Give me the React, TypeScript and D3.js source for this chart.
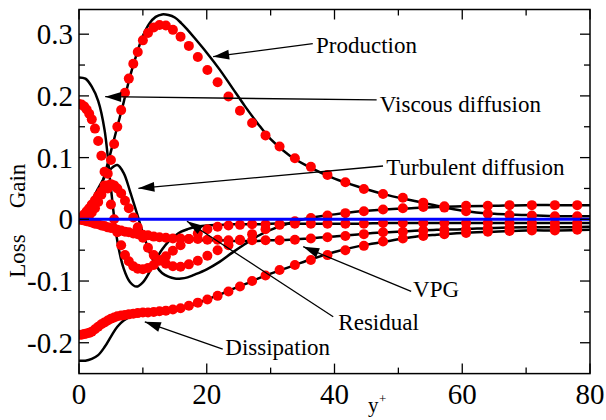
import React from "react";
import * as d3 from "d3";

// y+ positions of the model points (red dots)
const yPlusModel = [
  0, 0.4, 0.8, 1.2, 1.6, 2.0, 2.5, 3.0, 3.5, 4.0, 4.5, 5.0, 5.5, 6.0, 6.6, 7.2, 7.8, 8.5, 9.2, 10.0,
  10.8, 11.7, 12.6, 13.6, 14.7, 15.9, 17.2, 18.6, 20.1, 21.7, 23.4, 25.2, 27.1, 29.2, 31.4, 33.8,
  36.3, 38.9, 41.7, 44.6, 47.6, 50.7, 53.9, 57.2, 60.6, 64.0, 67.4, 70.9, 74.5, 78.0,
];
const productionModel = [
  0, 0.001, 0.002, 0.004, 0.007, 0.011, 0.018, 0.028, 0.04, 0.055, 0.074, 0.096, 0.122, 0.15, 0.177,
  0.205, 0.228, 0.252, 0.271, 0.29, 0.302, 0.311, 0.315, 0.314, 0.307, 0.296, 0.281, 0.263, 0.242,
  0.222, 0.199, 0.176, 0.156, 0.136, 0.118, 0.099, 0.085, 0.072, 0.06, 0.049, 0.041, 0.035, 0.027,
  0.019, 0.013, 0.009, 0.007, 0.006, 0.005, 0.005,
];
const turbDiffModel = [
  0, 0.003, 0.008, 0.013, 0.018, 0.024, 0.031, 0.038, 0.045, 0.051, 0.055, 0.057, 0.055, 0.05, 0.042,
  0.03, 0.018, 0.003, -0.013, -0.03, -0.046, -0.058, -0.066, -0.072, -0.076, -0.077, -0.073, -0.067,
  -0.059, -0.05, -0.042, -0.033, -0.024, -0.016, -0.009, -0.003, 0.002, 0.006, 0.01, 0.013, 0.016,
  0.018, 0.02, 0.021, 0.022, 0.022, 0.023, 0.023, 0.023, 0.023,
];
const viscDiffModel = [
  0.187, 0.186, 0.183, 0.178, 0.171, 0.162, 0.147, 0.127, 0.103, 0.077, 0.05, 0.024, 0.0, -0.021,
  -0.042, -0.058, -0.068, -0.076, -0.08, -0.081, -0.079, -0.074, -0.067, -0.06, -0.051, -0.042,
  -0.032, -0.023, -0.016, -0.012, -0.01, -0.009, -0.008, -0.008, -0.008, -0.007, -0.007, -0.007,
  -0.007, -0.007, -0.006, -0.006, -0.006, -0.006, -0.006, -0.006, -0.006, -0.006, -0.006, -0.006,
];
const vpgModel = [
  0, -0.001, -0.002, -0.003, -0.004, -0.005, -0.007, -0.008, -0.01, -0.011, -0.013, -0.014, -0.015,
  -0.017, -0.018, -0.02, -0.021, -0.023, -0.024, -0.025, -0.026, -0.028, -0.029, -0.03, -0.031,
  -0.031, -0.032, -0.032, -0.033, -0.033, -0.034, -0.034, -0.034, -0.034, -0.034, -0.033, -0.031,
  -0.029, -0.027, -0.024, -0.021, -0.02, -0.018, -0.017, -0.016, -0.015, -0.014, -0.013, -0.013,
  -0.012,
];
const dissipationModel = [
  -0.187, -0.187, -0.186, -0.185, -0.184, -0.182, -0.178, -0.174, -0.17, -0.167, -0.164, -0.161,
  -0.159, -0.157, -0.156, -0.155, -0.154, -0.153, -0.152, -0.151, -0.151, -0.15, -0.149, -0.148,
  -0.146, -0.144, -0.14, -0.135, -0.13, -0.124, -0.117, -0.109, -0.1, -0.091, -0.082, -0.074, -0.066,
  -0.058, -0.05, -0.043, -0.036, -0.031, -0.027, -0.024, -0.022, -0.02, -0.019, -0.018, -0.018,
  -0.017,
];

// y+ positions of the DNS curves (black lines)
const yPlusDns = [
  0, 1, 2, 3, 4, 5, 6, 7, 8, 9, 10, 11, 12, 13, 14, 15, 16, 17, 18, 20, 22, 24, 26, 28, 30, 33, 36,
  40, 44, 48, 52, 56, 60, 65, 70, 75, 80,
];
const productionDns = [
  0, 0.003, 0.014, 0.038, 0.072, 0.11, 0.15, 0.19, 0.232, 0.267, 0.297, 0.317, 0.328, 0.332, 0.331,
  0.327, 0.318, 0.307, 0.295, 0.27, 0.243, 0.213, 0.183, 0.155, 0.13, 0.103, 0.085, 0.066, 0.052,
  0.04, 0.031, 0.022, 0.014, 0.009, 0.007, 0.005, 0.005,
];
const turbDiffDns = [
  0, 0.012, 0.03, 0.05, 0.068, 0.082, 0.088, 0.075, 0.045, 0.012, -0.022, -0.052, -0.074, -0.087,
  -0.093, -0.096, -0.096, -0.094, -0.09, -0.081, -0.069, -0.054, -0.04, -0.027, -0.017, -0.006, 0.002,
  0.008, 0.013, 0.016, 0.018, 0.02, 0.021, 0.022, 0.023, 0.023, 0.023,
];
const viscDiffDns = [
  0.23, 0.228, 0.215, 0.192, 0.145, 0.05, -0.035, -0.08, -0.102, -0.109, -0.102, -0.086, -0.066,
  -0.049, -0.036, -0.027, -0.02, -0.016, -0.013, -0.01, -0.009, -0.008, -0.008, -0.008, -0.007,
  -0.007, -0.007, -0.007, -0.007, -0.006, -0.006, -0.006, -0.006, -0.006, -0.006, -0.006, -0.006,
];
const vpgDns = [
  0, -0.002, -0.005, -0.008, -0.011, -0.014, -0.017, -0.02, -0.022, -0.024, -0.026, -0.028, -0.029,
  -0.03, -0.031, -0.032, -0.032, -0.033, -0.033, -0.034, -0.034, -0.035, -0.035, -0.035, -0.034,
  -0.033, -0.031, -0.028, -0.024, -0.021, -0.019, -0.017, -0.016, -0.014, -0.013, -0.013, -0.012,
];
const dissipationDns = [
  -0.229, -0.229, -0.226, -0.22, -0.207, -0.19, -0.174, -0.164, -0.158, -0.156, -0.154, -0.152,
  -0.151, -0.15, -0.148, -0.146, -0.144, -0.141, -0.138, -0.13, -0.122, -0.113, -0.105, -0.096,
  -0.088, -0.077, -0.066, -0.053, -0.043, -0.036, -0.029, -0.025, -0.022, -0.02, -0.018, -0.018,
  -0.017,
];

// residual (blue line)
const yPlusResidual = [0, 20, 40, 60, 80];
const residual = [0, 0, 0, 0, 0];

const xMajor = [0, 20, 40, 60, 80];
const xMinor = [10, 30, 50, 70];
const yMajor = [-0.2, -0.1, 0, 0.1, 0.2, 0.3];
const yMinor = [-0.15, -0.05, 0.05, 0.15, 0.25];
const yTickLabels = ["-0.2", "-0.1", "0", "0.1", "0.2", "0.3"];

// annotation labels: text position and arrow tail/tip, in data units
const labels = [
  { text: "Production", tx: 37.1, ty: 0.2695, from: [36.6, 0.2848], to: [21.0, 0.2635] },
  { text: "Viscous diffusion", tx: 47.1, ty: 0.1744, from: [46.6, 0.1934], to: [4.1, 0.1987] },
  { text: "Turbulent diffusion", tx: 48.1, ty: 0.0718, from: [47.6, 0.0864], to: [9.3, 0.0502] },
  { text: "VPG", tx: 52.3, ty: -0.1254, from: [52.0, -0.1167], to: [35.1, -0.0444] },
  { text: "Residual", tx: 40.6, ty: -0.1794, from: [39.8, -0.1579], to: [16.9, -0.003] },
  { text: "Dissipation", tx: 22.9, ty: -0.22, from: [22.5, -0.2102], to: [10.3, -0.166] },
];

const width = 606;
const height = 420;
const font = '"Liberation Serif", "Times New Roman", Times, serif';

const x = d3.scaleLinear().domain([0, 80]).range([79, 590]);
const y = d3.scaleLinear().domain([-0.25, 0.34]).range([373.6, 9.5]);

const line = d3
  .line<[number, number]>()
  .x((d) => x(d[0]))
  .y((d) => y(d[1]))
  .curve(d3.curveCatmullRom.alpha(0.5));

const zip = (xs: number[], ys: number[]) => xs.map((v, i) => [v, ys[i]] as [number, number]);

const arrowHead = (x1: number, y1: number, x2: number, y2: number) => {
  const a = Math.atan2(y2 - y1, x2 - x1);
  const len = 16;
  const half = 5;
  const bx = x2 - len * Math.cos(a);
  const by = y2 - len * Math.sin(a);
  return `M${x2},${y2}L${bx - half * Math.sin(a)},${by + half * Math.cos(a)}L${bx + half * Math.sin(a)},${by - half * Math.cos(a)}Z`;
};

const App: React.FC = () => {
  const dnsSeries = [productionDns, turbDiffDns, viscDiffDns, vpgDns, dissipationDns];
  const modelSeries = [productionModel, turbDiffModel, viscDiffModel, vpgModel, dissipationModel];
  const [x0, x1] = x.range();
  const [y0, y1] = y.range();

  return (
    <svg
      width={width}
      height={height}
      style={{ position: "absolute", left: 0, top: 0, background: "#fff", fontFamily: font }}
    >
      <defs>
        <clipPath id="plot">
          <rect x={x0} y={y1} width={x1 - x0} height={y0 - y1} />
        </clipPath>
      </defs>

      <g clipPath="url(#plot)">
        {dnsSeries.map((s, i) => (
          <path key={i} d={line(zip(yPlusDns, s)) || ""} fill="none" stroke="#000" strokeWidth={2.5} />
        ))}
        {modelSeries.map((s, i) =>
          s.map((v, j) => (
            <circle key={`${i}-${j}`} cx={x(yPlusModel[j])} cy={y(v)} r={5} fill="#ff0000" />
          ))
        )}
        <path
          d={line(zip(yPlusResidual, residual)) || ""}
          fill="none"
          stroke="#0000ff"
          strokeWidth={3}
        />
      </g>

      {/* annotations */}
      {labels.map((l) => {
        const ax = x(l.from[0]);
        const ay = y(l.from[1]);
        const bx = x(l.to[0]);
        const by = y(l.to[1]);
        return (
          <g key={l.text}>
            <line x1={ax} y1={ay} x2={bx} y2={by} stroke="#000" strokeWidth={1.3} />
            <path d={arrowHead(ax, ay, bx, by)} fill="#000" />
            <text x={x(l.tx)} y={y(l.ty)} fontSize={23} fill="#000" style={{ fontFamily: font }}>
              {l.text}
            </text>
          </g>
        );
      })}

      {/* frame */}
      <rect x={x0} y={y1} width={x1 - x0} height={y0 - y1} fill="none" stroke="#000" strokeWidth={1.5} />

      {/* x ticks, bottom and top */}
      {xMajor.map((t) => (
        <g key={`xM${t}`}>
          <line x1={x(t)} x2={x(t)} y1={y0} y2={y0 - 10} stroke="#000" strokeWidth={1.3} />
          <line x1={x(t)} x2={x(t)} y1={y1} y2={y1 + 10} stroke="#000" strokeWidth={1.3} />
          <text x={x(t)} y={y0 + 30} fontSize={29} textAnchor="middle" style={{ fontFamily: font }}>
            {t}
          </text>
        </g>
      ))}
      {xMinor.map((t) => (
        <g key={`xm${t}`}>
          <line x1={x(t)} x2={x(t)} y1={y0} y2={y0 - 6} stroke="#000" strokeWidth={1.3} />
          <line x1={x(t)} x2={x(t)} y1={y1} y2={y1 + 6} stroke="#000" strokeWidth={1.3} />
        </g>
      ))}

      {/* y ticks, left and right */}
      {yMajor.map((t, i) => (
        <g key={`yM${t}`}>
          <line x1={x0} x2={x0 + 10} y1={y(t)} y2={y(t)} stroke="#000" strokeWidth={1.3} />
          <line x1={x1} x2={x1 - 10} y1={y(t)} y2={y(t)} stroke="#000" strokeWidth={1.3} />
          <text x={x0 - 6} y={y(t) + 10} fontSize={29} textAnchor="end" style={{ fontFamily: font }}>
            {yTickLabels[i]}
          </text>
        </g>
      ))}
      {yMinor.map((t) => (
        <g key={`ym${t}`}>
          <line x1={x0} x2={x0 + 6} y1={y(t)} y2={y(t)} stroke="#000" strokeWidth={1.3} />
          <line x1={x1} x2={x1 - 6} y1={y(t)} y2={y(t)} stroke="#000" strokeWidth={1.3} />
        </g>
      ))}

      {/* axis titles */}
      <text transform="translate(25,186) rotate(-90)" fontSize={23} textAnchor="middle" style={{ fontFamily: font }}>
        Gain
      </text>
      <text transform="translate(25,256) rotate(-90)" fontSize={23} textAnchor="middle" style={{ fontFamily: font }}>
        Loss
      </text>
      <text x={368} y={412} fontSize={21} style={{ fontFamily: font }}>
        y
      </text>
      <text x={379} y={403} fontSize={13} style={{ fontFamily: font }}>
        +
      </text>
    </svg>
  );
};

export default App;
